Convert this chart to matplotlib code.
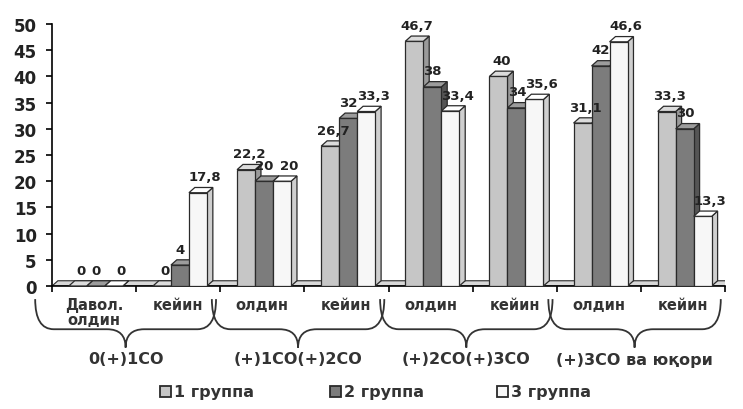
import numpy as np
import matplotlib.pyplot as plt
from matplotlib.patches import Polygon, Rectangle, PathPatch
from matplotlib.path import Path

plt.rcParams['font.family'] = ['DejaVu Sans']
plt.rcParams['font.weight'] = 'bold'

categories = ["Давол.\nолдин", "кейин", "олдин", "кейин",
              "олдин", "кейин", "олдин", "кейин"]
groups = ["0(+)1СО", "(+)1СО(+)2СО", "(+)2СО(+)3СО", "(+)3СО ва юқори"]
series_names = ["1 группа", "2 группа", "3 группа"]
group1 = [0, 0, 22.2, 26.7, 46.7, 40, 31.1, 33.3]
group2 = [0, 4, 20, 32, 38, 34, 42, 30]
group3 = [0, 17.8, 20, 33.3, 33.4, 35.6, 46.6, 13.3]

front = ["#c6c6c6", "#7c7c7c", "#f7f7f7"]
side = ["#9a9a9a", "#555555", "#cfcfcf"]
top = ["#dcdcdc", "#9c9c9c", "#ffffff"]
edge = "#2a2a2a"
txt = "#333333"

fig = plt.figure(figsize=(7.43, 4.10), dpi=100)
ax = fig.add_axes([52/743, 123/410, 673/743, 262/410])

n = len(categories)
w = 0.214
off = 0.2
dx = 0.07
dy = 1.0
# small sideways nudge of the value labels per series
nudge = [0.0, -0.03, 0.05]

# floor slab
floor = Polygon([(0, 0), (n, 0), (n + dx, dy), (dx, dy)], closed=True,
                facecolor="#d8d8d8", edgecolor=edge, lw=0.8, zorder=1)
ax.add_patch(floor)

series = [group1, group2, group3]
for j, vals in enumerate(series):
    x = np.arange(n) + off + j * w
    ax.bar(x, vals, width=w, align='edge', color=front[j], edgecolor=edge,
           lw=0.9, zorder=3 + j)
    for xi, h in zip(x, vals):
        ax.add_patch(Polygon([(xi + w, 0), (xi + w + dx, dy),
                              (xi + w + dx, h + dy), (xi + w, h)],
                             closed=True, facecolor=side[j], edgecolor=edge,
                             lw=0.9, zorder=2.5 + j))
        ax.add_patch(Polygon([(xi, h), (xi + dx, h + dy),
                              (xi + w + dx, h + dy), (xi + w, h)],
                             closed=True, facecolor=top[j], edgecolor=edge,
                             lw=0.9, zorder=3 + j))
        lab = f"{h:g}".replace('.', ',')
        ax.text(xi + w / 2 + dx / 2 + nudge[j], h + dy + 0.8, lab,
                ha='center', va='bottom', fontsize=9.5, fontweight='bold',
                color="#222222", zorder=10)

ax.set_xlim(0, n)
ax.set_ylim(0, 50)
ax.set_yticks(np.arange(0, 51, 5))
ax.tick_params(axis='y', direction='out', length=4, width=1.2,
               labelsize=12, pad=7, labelcolor="#222222")
ax.set_xticks(np.arange(0, n + 1))
ax.set_xticklabels([])
ax.tick_params(axis='x', which='major', direction='out', length=4, width=1.2)
ax.set_xticks(np.arange(n) + 0.5, minor=True)
ax.set_xticklabels(categories, minor=True, fontsize=10.5, fontweight='bold',
                   linespacing=0.95, color=txt)
ax.tick_params(axis='x', which='minor', length=0, pad=8)
for s in ['top', 'right']:
    ax.spines[s].set_visible(False)
ax.spines['left'].set_linewidth(1.2)
ax.spines['bottom'].set_linewidth(1.2)

# braces under the category pairs
trans = ax.get_xaxis_transform()
y_top, y_mid, y_tip = -0.05, -0.165, -0.235
r = 0.22
for g, name in enumerate(groups):
    x0 = 2 * g - 0.1 if g > 0 else -0.2
    x1 = 2 * g + 1.95
    xm = (x0 + x1) / 2
    verts = [(x0, y_top), (x0, y_mid), (x0 + r, y_mid),
             (xm - r, y_mid),
             (xm, y_mid), (xm, y_tip),
             (xm, y_mid), (xm + r, y_mid),
             (x1 - r, y_mid),
             (x1, y_mid), (x1, y_top)]
    codes = [Path.MOVETO, Path.CURVE3, Path.CURVE3, Path.LINETO,
             Path.CURVE3, Path.CURVE3, Path.CURVE3, Path.CURVE3,
             Path.LINETO, Path.CURVE3, Path.CURVE3]
    ax.add_patch(PathPatch(Path(verts, codes), transform=trans, fill=False,
                           lw=1.3, edgecolor=txt, clip_on=False))
    ax.text(xm, -0.25, name, transform=trans, ha='center', va='top',
            fontsize=11.5, fontweight='bold', color=txt)

# legend
leg_x = [160, 330, 497]
for j, name in enumerate(series_names):
    fig.add_artist(Rectangle((leg_x[j] / 743, 12 / 410), 11 / 743, 11 / 410,
                             transform=fig.transFigure, facecolor=front[j],
                             edgecolor=edge, lw=1.3))
    fig.text((leg_x[j] + 14) / 743, 17 / 410, name, ha='left',
             va='center', fontsize=11.5, fontweight='bold', color=txt)

fig.savefig("out.png", dpi=100)
